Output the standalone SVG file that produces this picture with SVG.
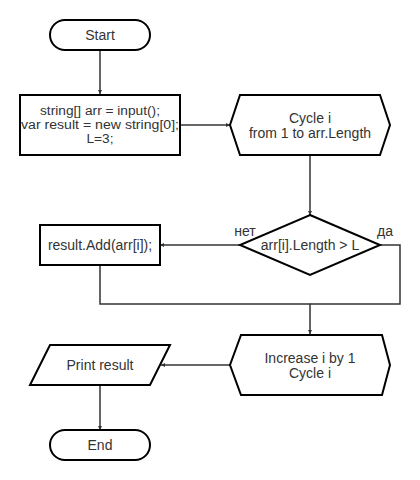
<svg xmlns="http://www.w3.org/2000/svg" width="420" height="480" viewBox="0 0 420 480">
<defs>
<marker id="arr" viewBox="0 0 6 6" refX="6" refY="3" markerWidth="4" markerHeight="4" orient="auto" markerUnits="userSpaceOnUse">
<path d="M0,0 L6,3 L0,6 Z" fill="#333"/>
</marker>
</defs>
<style>
.shape{fill:#fff;stroke:#000;stroke-width:2}
.conn{fill:none;stroke:#333;stroke-width:1.5}
.t{font-family:"Liberation Sans",Arial,sans-serif;font-size:14px;fill:#333;text-anchor:middle;dominant-baseline:central}
.s{font-size:12.5px}
</style>
<rect width="420" height="480" fill="#fff"/>
<g id="connectors">
<path class="conn" d="M100,50 V94" marker-end="url(#arr)"/>
<path class="conn" d="M180,125 H230" marker-end="url(#arr)"/>
<path class="conn" d="M310,155 V215" marker-end="url(#arr)"/>
<path class="conn" d="M240,245 H160" marker-end="url(#arr)"/>
<path class="conn" d="M380,245 H400 V304 H310"/>
<path class="conn" d="M100,265 V304 H310 V334" marker-end="url(#arr)"/>
<path class="conn" d="M230,365 H161" marker-end="url(#arr)"/>
<path class="conn" d="M100,385 V430" marker-end="url(#arr)"/>
</g>
<g id="start">
<rect class="shape" x="50" y="20" width="100" height="30" rx="15"/>
<text class="t" x="100" y="35">Start</text>
</g>
<g id="init">
<rect class="shape" x="20" y="95" width="160" height="60"/>
<text class="t s" x="100" y="111" textLength="120" lengthAdjust="spacingAndGlyphs">string[] arr = input();</text>
<text class="t s" x="100" y="125" textLength="158" lengthAdjust="spacingAndGlyphs">var result = new string[0];</text>
<text class="t s" x="100" y="139" textLength="27" lengthAdjust="spacingAndGlyphs">L=3;</text>
</g>
<g id="cycle">
<polygon class="shape" points="240,95 380,95 390,125 380,155 240,155 230,125"/>
<text class="t" x="310" y="118">Cycle i</text>
<text class="t" x="310" y="133">from 1 to arr.Length</text>
</g>
<g id="decision">
<polygon class="shape" points="310,215 380,245 310,275 240,245"/>
<text class="t" x="310" y="245">arr[i].Length &gt; L</text>
<text class="t" x="245" y="231">нет</text>
<text class="t" x="385" y="231">да</text>
</g>
<g id="add">
<rect class="shape" x="40" y="225" width="120" height="40"/>
<text class="t" x="100" y="245">result.Add(arr[i]);</text>
</g>
<g id="increase">
<polygon class="shape" points="241,335 382,335 390,365 382,395 241,395 230,365"/>
<text class="t" x="310" y="358">Increase i by 1</text>
<text class="t" x="310" y="373">Cycle i</text>
</g>
<g id="print">
<polygon class="shape" points="50,345 170,345 150,385 30,385"/>
<text class="t" x="100" y="365">Print result</text>
</g>
<g id="end">
<rect class="shape" x="50" y="430" width="100" height="30" rx="15"/>
<text class="t" x="100" y="445">End</text>
</g>
</svg>
